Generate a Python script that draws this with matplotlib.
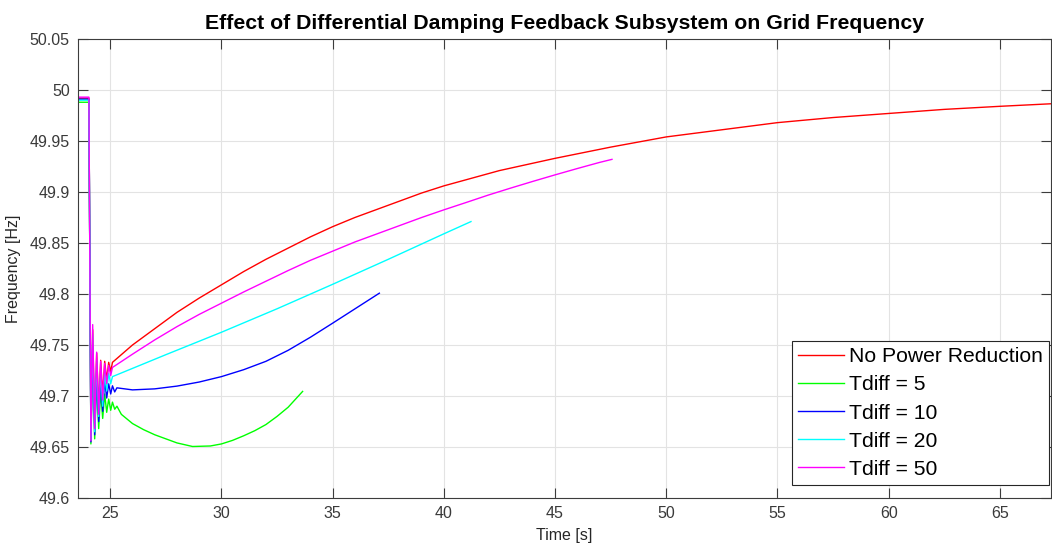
import matplotlib
matplotlib.use("Agg")
import matplotlib.pyplot as plt

plt.rcParams['font.family'] = ['Liberation Sans', 'DejaVu Sans']

# ---------------- data ----------------
labels = ["No Power Reduction", "Tdiff = 5", "Tdiff = 10", "Tdiff = 20", "Tdiff = 50"]
colors = ["#ff0000", "#00ff00", "#0000ff", "#00ffff", "#ff00ff"]

# No power reduction
t_red = [23.56, 24.04, 24.13, 24.21, 24.30, 24.39, 24.48, 24.57, 24.66, 24.75, 24.84, 24.93, 25.02,
         25.1, 26.0, 27.0, 28.0, 29.0, 30.0, 31.0, 32.0, 33.0, 34.0, 35.0, 36.0, 37.0, 38.0, 39.0,
         40.0, 42.5, 45.0, 47.5, 50.0, 52.5, 55.0, 57.5, 60.0, 62.5, 65.0, 67.3]
f_red = [49.992, 49.992, 49.658, 49.765, 49.672, 49.742, 49.688, 49.735, 49.700, 49.734, 49.716, 49.733, 49.724,
         49.733, 49.750, 49.766, 49.782, 49.796, 49.809, 49.822, 49.834, 49.845, 49.856, 49.866, 49.875, 49.883,
         49.891, 49.899, 49.906, 49.921, 49.933, 49.944, 49.954, 49.961, 49.968, 49.973, 49.977, 49.981, 49.984,
         49.9865]

# Tdiff = 5
t_green = [23.56, 24.04, 24.13, 24.21, 24.30, 24.39, 24.48, 24.57, 24.66, 24.75, 24.84, 24.93, 25.02,
           25.1, 25.2, 25.3, 25.5, 26.0, 26.5, 27.0, 27.5, 28.0, 28.7, 29.5, 30.0, 30.5, 31.0,
           31.5, 32.0, 32.5, 33.0, 33.65]
f_green = [49.988, 49.988, 49.653, 49.740, 49.658, 49.715, 49.668, 49.705, 49.678, 49.702, 49.684, 49.697, 49.686,
           49.694, 49.687, 49.690, 49.682, 49.673, 49.667, 49.662, 49.658, 49.654, 49.6505, 49.651, 49.653, 49.6565,
           49.661, 49.666, 49.672, 49.680, 49.689, 49.7045]

# Tdiff = 10
t_blue = [23.56, 24.04, 24.13, 24.21, 24.30, 24.39, 24.48, 24.57, 24.66, 24.75, 24.84, 24.93, 25.02,
          25.1, 25.2, 25.3, 26.0, 27.0, 28.0, 29.0, 30.0, 31.0, 32.0, 33.0, 34.0, 35.0, 36.0, 37.0, 37.1]
f_blue = [49.991, 49.991, 49.655, 49.750, 49.662, 49.725, 49.675, 49.715, 49.685, 49.715, 49.698, 49.712, 49.702,
          49.710, 49.704, 49.708, 49.706, 49.707, 49.7097, 49.7137, 49.719, 49.7258, 49.734, 49.7448, 49.7576,
          49.7714, 49.7854, 49.7994, 49.8008]

# Tdiff = 20
t_cyan = [23.56, 24.04, 24.13, 24.21, 24.30, 24.39, 24.48, 24.57, 24.66, 24.75, 24.84, 24.93, 25.02,
          25.1, 27.5, 30.0, 32.5, 35.0, 37.5, 40.0, 41.22]
f_cyan = [49.990, 49.990, 49.657, 49.760, 49.665, 49.735, 49.680, 49.725, 49.690, 49.722, 49.705, 49.722, 49.712,
          49.719, 49.7405, 49.7625, 49.7855, 49.8095, 49.834, 49.859, 49.871]

# Tdiff = 50
t_mag = [23.56, 24.04, 24.13, 24.21, 24.30, 24.39, 24.48, 24.57, 24.66, 24.75, 24.84, 24.93, 25.02,
         25.1, 26.0, 27.0, 28.0, 29.0, 30.0, 31.0, 32.0, 33.0, 34.0, 35.0, 36.0, 37.0, 38.0, 39.0,
         40.0, 41.0, 42.0, 43.0, 44.0, 45.0, 46.0, 47.0, 47.56]
f_mag = [49.993, 49.993, 49.656, 49.770, 49.668, 49.743, 49.682, 49.734, 49.696, 49.732, 49.712, 49.730, 49.720,
         49.728, 49.741, 49.755, 49.768, 49.780, 49.791, 49.802, 49.8125, 49.823, 49.833, 49.842, 49.851, 49.859,
         49.867, 49.875, 49.8825, 49.8897, 49.897, 49.9038, 49.9104, 49.9168, 49.923, 49.929, 49.932]

x_ticks = [25, 30, 35, 40, 45, 50, 55, 60, 65]
y_ticks = [49.6, 49.65, 49.7, 49.75, 49.8, 49.85, 49.9, 49.95, 50.0, 50.05]
y_tick_labels = ["49.6", "49.65", "49.7", "49.75", "49.8", "49.85", "49.9", "49.95", "50", "50.05"]

# ---------------- figure ----------------
W, H = 1052, 546
fig = plt.figure(figsize=(W / 100, H / 100), dpi=100)
ax = fig.add_axes([78 / W, 1 - 498 / H, (1051 - 78) / W, (498 - 39) / H])

series = [(t_red, f_red), (t_green, f_green), (t_blue, f_blue), (t_cyan, f_cyan), (t_mag, f_mag)]
for (t, f), c, lab in zip(series, colors, labels):
    ax.plot(t, f, color=c, lw=1.0, label=lab)

ax.set_xlim(23.55, 67.3)
ax.set_ylim(49.6, 50.05)
ax.set_xticks(x_ticks)
ax.set_xticklabels([str(v) for v in x_ticks])
ax.set_yticks(y_ticks)
ax.set_yticklabels(y_tick_labels)

ax.grid(True, color="#e3e3e3", lw=0.8)
ax.set_axisbelow(True)
for s in ax.spines.values():
    s.set_color("#3c3c3c")
    s.set_linewidth(0.8)
ax.tick_params(direction="in", length=7, width=0.8, color="#3c3c3c",
               top=True, right=True, labelsize=11.5, labelcolor="#3a3a3a", pad=6)

ax.set_xlabel("Time [s]", fontsize=11.5, color="#262626", labelpad=5)
ax.set_ylabel("Frequency [Hz]", fontsize=11.5, color="#262626", labelpad=6)
ax.set_title("Effect of Differential Damping Feedback Subsystem on Grid Frequency",
             fontsize=15.3, fontweight="bold", color="black", pad=7)

leg = ax.legend(loc="lower right", bbox_to_anchor=(1049 / W, 1 - 485 / H),
                bbox_transform=fig.transFigure, fontsize=15.2, frameon=True, fancybox=False,
                framealpha=1.0, edgecolor="#262626", handlelength=2.15, handletextpad=0.25,
                labelspacing=0.43, borderpad=0.3, borderaxespad=0)
leg.get_frame().set_linewidth(0.8)

fig.savefig("out.png", dpi=100)
